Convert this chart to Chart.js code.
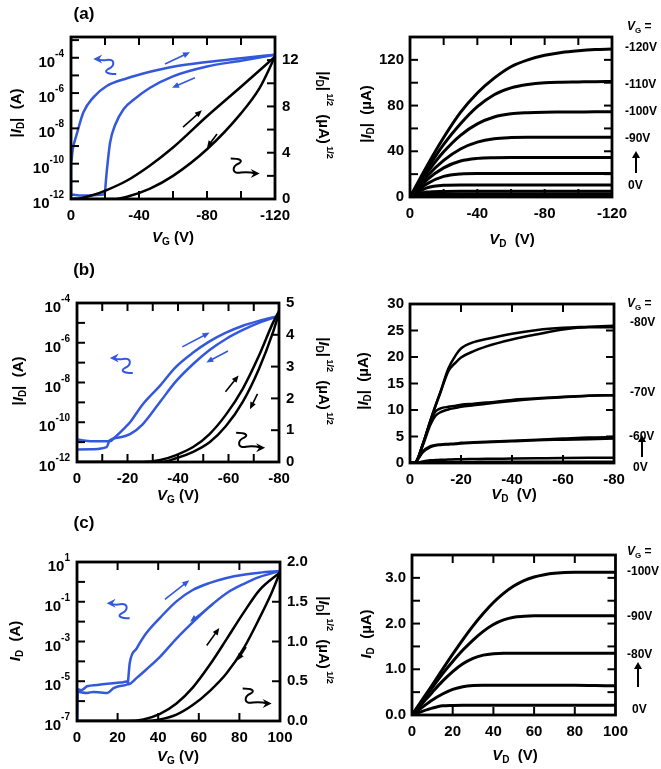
<!DOCTYPE html>
<html>
<head>
<meta charset="utf-8">
<script src="https://cdn.jsdelivr.net/npm/chart.js@4.4.1/dist/chart.umd.min.js"></script>
<style>
  body { margin: 0; width: 661px; height: 769px; background: #fff; position: relative; overflow: hidden;
         font-family: "Liberation Sans", Arial, sans-serif; font-weight: bold; color: #000; }
  canvas { position: absolute; }
  .t { position: absolute; white-space: nowrap; font-size: 15px; line-height: 1; transform: translate(-50%, -50%); }
  .t.rl { transform: translate(-50%, -50%) rotate(-90deg); }
  .t.rr { transform: translate(-50%, -50%) rotate(90deg); }
  .t sub { font-size: 10px; vertical-align: -3px; }
  .t sup { font-size: 9px; vertical-align: 8px; }
  .g { position: absolute; white-space: nowrap; font-size: 12px; line-height: 1; transform: translateY(-50%); }
  .g sub { font-size: 8px; vertical-align: -3px; }
  .pl { position: absolute; font-size: 17px; line-height: 1; transform: translate(-50%, -50%); }
  .arr { position: absolute; width: 1.5px; background: #000; }
  .arr::before { content: ''; position: absolute; left: -3.5px; top: -6px; border-left: 4.25px solid transparent;
                 border-right: 4.25px solid transparent; border-bottom: 7px solid #000; }
</style>
</head>
<body>

<div class="pl" style="left:84px;top:13px">(a)</div>
<div class="pl" style="left:84px;top:269px">(b)</div>
<div class="pl" style="left:84px;top:522px">(c)</div>

<!-- axis titles, panel a -->
<div class="t rl" style="left:17px;top:113px">|<i>I</i><sub>D</sub>|&nbsp; (A)</div>
<div class="t rr" style="left:324px;top:115px">|<i>I</i><sub>D</sub>|<sup>&nbsp;1/2</sup>&nbsp; (µA)<sup>&nbsp;1/2</sup></div>
<div class="t" style="left:173px;top:238px"><i>V</i><sub>G</sub> (V)</div>
<div class="t rl" style="left:367px;top:114px">|<i>I</i><sub>D</sub>|&nbsp; (µA)</div>
<div class="t" style="left:512px;top:240px"><i>V</i><sub>D</sub>&nbsp; (V)</div>

<!-- axis titles, panel b -->
<div class="t rl" style="left:19px;top:381px">|<i>I</i><sub>D</sub>|&nbsp; (A)</div>
<div class="t rr" style="left:324px;top:381px">|<i>I</i><sub>D</sub>|<sup>&nbsp;1/2</sup>&nbsp; (µA)<sup>&nbsp;1/2</sup></div>
<div class="t" style="left:178px;top:496px"><i>V</i><sub>G</sub> (V)</div>
<div class="t rl" style="left:364px;top:381px">|<i>I</i><sub>D</sub>|&nbsp; (µA)</div>
<div class="t" style="left:514px;top:495px"><i>V</i><sub>D</sub>&nbsp; (V)</div>

<!-- axis titles, panel c -->
<div class="t rl" style="left:16px;top:641px"><i>I</i><sub>D</sub>&nbsp; (A)</div>
<div class="t rr" style="left:324px;top:640px">|<i>I</i><sub>D</sub>|<sup>&nbsp;1/2</sup>&nbsp; (µA)<sup>&nbsp;1/2</sup></div>
<div class="t" style="left:178px;top:757px"><i>V</i><sub>G</sub> (V)</div>
<div class="t rl" style="left:367px;top:634px"><i>I</i><sub>D</sub>&nbsp; (µA)</div>
<div class="t" style="left:515px;top:756px"><i>V</i><sub>D</sub>&nbsp; (V)</div>

<!-- gate voltage labels -->
<div class="g" style="left:627px;top:27px"><i>V</i><sub>G</sub> =</div>
<div class="g" style="left:625px;top:47px">-120V</div>
<div class="g" style="left:625px;top:84px">-110V</div>
<div class="g" style="left:625px;top:111px">-100V</div>
<div class="g" style="left:625px;top:138px">-90V</div>
<div class="arr" style="left:635px;top:157px;height:16px"></div>
<div class="g" style="left:628px;top:185px">0V</div>

<div class="g" style="left:627px;top:304px"><i>V</i><sub>G</sub> =</div>
<div class="g" style="left:630px;top:322px">-80V</div>
<div class="g" style="left:630px;top:392px">-70V</div>
<div class="g" style="left:629px;top:436px">-60V</div>
<div class="arr" style="left:641px;top:441px;height:16px"></div>
<div class="g" style="left:633px;top:467px">0V</div>

<div class="g" style="left:627px;top:552px"><i>V</i><sub>G</sub> =</div>
<div class="g" style="left:627px;top:571px">-100V</div>
<div class="g" style="left:627px;top:616px">-90V</div>
<div class="g" style="left:627px;top:654px">-80V</div>
<div class="arr" style="left:637px;top:668px;height:19px"></div>
<div class="g" style="left:632px;top:709px">0V</div>

<script>
const FONT = "'Liberation Sans', Arial, sans-serif";
const BLUE = '#3358dc';

// ---------- panel (a): transfer ----------
const aBlueOuterVg = [0, 0, -1, -3.3, -7.3, -13, -21, -33, -46.5, -60, -80, -100, -120];
const aBlueOuterId = [1.8e-12, 1e-10, 6.3e-10, 4.4e-9, 8.1e-8, 5.5e-7, 2.5e-6, 6.9e-6, 1.6e-5, 3.1e-5, 5.8e-5, 9.5e-5, 1.5e-4];
const aBlueInnerVg = [0, -5, -10, -15, -19, -20, -20.5, -21.5, -23, -26, -31, -37, -46.5, -60, -80, -100, -120];
const aBlueInnerId = [1.8e-12, 1.6e-12, 1.6e-12, 1.7e-12, 1.8e-12, 2.5e-12, 1e-11, 1e-10, 1.6e-9, 1.6e-8, 1.26e-7, 4.3e-7, 2e-6, 8.9e-6, 3.2e-5, 6.8e-5, 1.5e-4];
const aBlackFwdVg = [0, -5, -13, -21, -33, -46.5, -60, -80, -100, -120];
const aBlackFwdSqrt = [0, 0.05, 0.34, 0.77, 1.6, 2.9, 4.45, 7.15, 9.7, 12.3];
const aBlackRevVg = [0, -10, -20, -25, -33, -46.5, -60, -80, -100, -111, -120];
const aBlackRevSqrt = [0, 0, 0, 0, 0.2, 0.9, 2.0, 4.3, 7.4, 9.6, 12.3];
const aLogTicks = [-12, -11, -10, -9, -8, -7, -6, -5, -4, -3];
const aLogLabels = [-12, -10, -8, -6, -4];

// ---------- panel (a): output ----------
const aVd = [0, -10, -20, -30, -40, -50, -60, -70, -80, -90, -100, -110, -120];
const aOut120 = [0, 27, 52, 74, 91, 104, 114, 120, 124, 126.5, 128, 129, 129.5];
const aOut110 = [0, 24, 46, 64, 79, 89.5, 95.5, 98.5, 100, 100.5, 100.7, 100.9, 101];
const aOut100 = [0, 21, 39.5, 54, 64, 70, 72.8, 73.8, 74.2, 74.3, 74.4, 74.5, 74.5];
const aOut90 = [0, 18, 32, 42, 48, 51, 52, 52.3, 52.3, 52.3, 52.3, 52.3, 52.3];
const aOut80 = [0, 15, 25.5, 31.5, 33.8, 34.4, 34.5, 34.5, 34.5, 34.5, 34.5, 34.5, 34.5];
const aOut70 = [0, 11.5, 18, 20.2, 20.6, 20.6, 20.6, 20.6, 20.6, 20.6, 20.6, 20.6, 20.6];
const aOut60 = [0, 8, 10.3, 10.6, 10.6, 10.6, 10.6, 10.6, 10.6, 10.6, 10.6, 10.6, 10.6];
const aOut50 = [0, 4.3, 4.9, 5, 5, 5, 5, 5, 5, 5, 5, 5, 5];
const aOut40 = [0, 2.2, 2.5, 2.6, 2.6, 2.6, 2.6, 2.6, 2.6, 2.6, 2.6, 2.6, 2.6];
const aOut30 = [0, 0.8, 0.9, 0.9, 0.9, 0.9, 0.9, 0.9, 0.9, 0.9, 0.9, 0.9, 0.9];
const aOut0 = [0, 0.2, 0.3, 0.3, 0.3, 0.3, 0.3, 0.3, 0.3, 0.3, 0.3, 0.3, 0.3];

// ---------- panel (b): transfer ----------
const bBlueFwdVg = [0, -6, -13, -15, -19, -21, -26, -33, -39, -46, -52.5, -59, -65.7, -72, -80];
const bBlueFwdId = [1.35e-11, 1.1e-11, 1.1e-11, 1.75e-11, 5.4e-11, 1e-10, 7.9e-10, 7.2e-9, 5.8e-8, 3.2e-7, 1.17e-6, 3.2e-6, 7.2e-6, 1.26e-5, 2.24e-5];
const bBlueRevVg = [0, -6, -11.7, -13, -17, -21, -26, -33, -39, -46, -52.5, -59, -65.7, -72, -80];
const bBlueRevId = [4.2e-12, 4.4e-12, 5.6e-12, 1.26e-11, 1.75e-11, 2.5e-11, 7.9e-11, 1.1e-9, 1.07e-8, 8.5e-8, 4.3e-7, 1.55e-6, 4.4e-6, 1e-5, 2.24e-5];
const bBlackFwdVg = [0, -20, -26, -33, -39, -46, -52.5, -59, -65.7, -72, -77.5, -80];
const bBlackFwdSqrt = [0, 0, 0, 0.06, 0.21, 0.47, 0.88, 1.49, 2.31, 3.33, 4.36, 4.75];
const bBlackRevVg = [0, -26, -33, -39, -46, -52.5, -59, -65.7, -72, -77.5, -80];
const bBlackRevSqrt = [0, 0, 0, 0.11, 0.32, 0.62, 1.13, 1.9, 2.92, 4.05, 4.7];
const bLogTicks = [-12, -11, -10, -9, -8, -7, -6, -5, -4];
const bLogLabels = [-12, -10, -8, -6, -4];

// ---------- panel (b): output ----------
const bVd = [0, -2, -5, -8, -10, -12, -15, -18, -20, -25, -30, -40, -50, -60, -70, -80];
const bOut80a = [0, 0.1, 3.5, 8, 10.8, 13.5, 17.8, 20.4, 21.6, 22.8, 23.4, 24.4, 25.1, 25.5, 25.7, 25.9];
const bOut80b = [0, 0.1, 3.5, 8, 10.8, 13.4, 17.3, 19, 19.9, 21.1, 22, 23.3, 24.3, 25.2, 25.6, 25.6];
const bOut70a = [0, 0.1, 3.5, 7.8, 9.7, 10.3, 10.6, 10.8, 11, 11.2, 11.4, 11.9, 12.2, 12.5, 12.7, 12.8];
const bOut70b = [0, 0.1, 3.3, 7.2, 8.9, 9.6, 10.1, 10.4, 10.6, 10.9, 11.2, 11.7, 12.1, 12.4, 12.7, 12.8];
const bOut60a = [0, 0.1, 2.2, 3.2, 3.4, 3.5, 3.6, 3.7, 3.8, 3.9, 4, 4.2, 4.4, 4.6, 4.8, 4.9];
const bOut60b = [0, 0.1, 2, 3, 3.3, 3.4, 3.5, 3.6, 3.7, 3.8, 3.9, 4.1, 4.3, 4.4, 4.5, 4.6];
const bOut50 = [0, 0, 0.3, 0.5, 0.55, 0.6, 0.65, 0.7, 0.72, 0.75, 0.78, 0.83, 0.88, 0.93, 0.97, 1];
const bOut0 = [0, 0, 0.1, 0.15, 0.18, 0.2, 0.2, 0.2, 0.21, 0.21, 0.22, 0.22, 0.23, 0.24, 0.25, 0.25];

// ---------- panel (c): transfer ----------
const cBlueFwdVg = [0, 0.3, 2, 5, 8, 12, 15, 18, 22, 25, 25.3, 26, 29.4, 34, 41, 49, 57, 65.5, 73.7, 82, 90, 100];
const cBlueFwdId = [1e-7, 3e-6, 2.8e-6, 2.6e-6, 2.9e-6, 2.7e-6, 2.6e-6, 4.5e-6, 6e-6, 7e-6, 1.5e-5, 8.5e-5, 4.5e-4, 2.5e-3, 1.6e-2, 0.105, 0.39, 0.89, 1.58, 2.3, 2.9, 3.5];
const cBlueRevVg = [0, 0.3, 2, 5, 10, 15, 20, 22.8, 25, 25.3, 29.4, 34, 41, 49, 57, 65.5, 73.7, 82, 90, 100];
const cBlueRevId = [1e-7, 4e-6, 3.5e-6, 5.6e-6, 6.5e-6, 7.5e-6, 8.5e-6, 9e-6, 1e-5, 7.1e-6, 1.48e-5, 3.8e-5, 1.74e-4, 1.4e-3, 9.1e-3, 5.9e-2, 0.27, 0.78, 1.78, 3.5];
const cBlackFwdVg = [0, 24.5, 32.7, 40.9, 49, 57, 65.5, 73.7, 82, 90, 100];
const cBlackFwdSqrt = [0, 0, 0.02, 0.09, 0.22, 0.42, 0.71, 1.03, 1.36, 1.65, 1.87];
const cBlackRevVg = [0, 32.7, 40.9, 49, 57, 65.5, 73.7, 82, 90, 96, 100];
const cBlackRevSqrt = [0, 0, 0.02, 0.08, 0.2, 0.38, 0.6, 0.91, 1.3, 1.62, 1.87];
const cLogTicks = [-7, -6, -5, -4, -3, -2, -1, 0, 1];
const cLogLabels = [-7, -5, -3, -1, 1];

// ---------- panel (c): output ----------
const cVd = [0, 5, 10, 15, 20, 25, 30, 35, 40, 45, 50, 55, 60, 65, 70, 80, 90, 100];
const cOut100 = [0, 0.33, 0.66, 1.0, 1.33, 1.65, 1.95, 2.22, 2.46, 2.66, 2.82, 2.94, 3.02, 3.07, 3.1, 3.12, 3.12, 3.12];
const cOut90 = [0, 0.3, 0.6, 0.9, 1.17, 1.42, 1.64, 1.83, 1.98, 2.08, 2.14, 2.16, 2.17, 2.17, 2.17, 2.17, 2.17, 2.17];
const cOut80 = [0, 0.25, 0.5, 0.74, 0.95, 1.12, 1.24, 1.31, 1.34, 1.35, 1.35, 1.35, 1.35, 1.35, 1.35, 1.35, 1.35, 1.35];
const cOut70 = [0, 0.17, 0.33, 0.46, 0.56, 0.62, 0.645, 0.65, 0.65, 0.65, 0.65, 0.65, 0.65, 0.65, 0.65, 0.65, 0.645, 0.64];
const cOut0 = [0, 0.08, 0.15, 0.2, 0.21, 0.215, 0.215, 0.215, 0.215, 0.215, 0.215, 0.215, 0.215, 0.215, 0.215, 0.215, 0.215, 0.215];

function pts(xs, ys) {
    return xs.map((x, i) => ({ x: x, y: ys[i] }));
}

function curve(xs, ys, color, width, axis) {
    return {
        data: pts(xs, ys),
        borderColor: color,
        borderWidth: width,
        pointRadius: 0,
        fill: false,
        cubicInterpolationMode: 'monotone',
        yAxisID: axis
    };
}

function drawLine(ctx, x1, y1, x2, y2) {
    ctx.beginPath();
    ctx.moveTo(x1, y1);
    ctx.lineTo(x2, y2);
    ctx.stroke();
}

function drawArrow(ctx, x1, y1, x2, y2, color, w) {
    const ang = Math.atan2(y2 - y1, x2 - x1), hl = 7, hw = 3;
    const c = Math.cos(ang), s = Math.sin(ang);
    ctx.strokeStyle = color;
    ctx.fillStyle = color;
    ctx.lineWidth = w;
    drawLine(ctx, x1, y1, x2 - hl * 0.6 * c, y2 - hl * 0.6 * s);
    ctx.beginPath();
    ctx.moveTo(x2, y2);
    ctx.lineTo(x2 - hl * c + hw * s, y2 - hl * s - hw * c);
    ctx.lineTo(x2 - hl * c - hw * s, y2 - hl * s + hw * c);
    ctx.closePath();
    ctx.fill();
}

// curly arrow: head at (hx, hy), pointing left; black ones are turned round
function drawCurl(ctx, hx, hy, color, flip, shaft) {
    ctx.save();
    ctx.translate(hx, hy);
    if (flip) ctx.rotate(Math.PI);
    ctx.strokeStyle = color;
    ctx.fillStyle = color;
    ctx.lineWidth = 2;
    ctx.beginPath();
    ctx.moveTo(4, 0);
    ctx.quadraticCurveTo(shaft * 0.6, 2, shaft, 1);
    ctx.bezierCurveTo(shaft + 9, -1, shaft + 9, 7, shaft + 2, 10);
    ctx.bezierCurveTo(shaft - 3, 13, shaft + 1, 15, shaft + 10, 15);
    ctx.stroke();
    ctx.beginPath();
    ctx.moveTo(0, 0);
    ctx.lineTo(9, -4.5);
    ctx.lineTo(6, 0);
    ctx.lineTo(9, 4.5);
    ctx.closePath();
    ctx.fill();
    ctx.restore();
}

const TL = 8;   // inner tick length

const framePlugin = {
    id: 'frame',
    afterDraw(chart, args, opts) {
        const { ctx, chartArea: a, scales } = chart;
        ctx.save();
        ctx.strokeStyle = '#000';
        ctx.lineWidth = 2;
        const xs = scales.x;
        xs.ticks.forEach(t => {
            const px = xs.getPixelForValue(t.value);
            if (px < a.left + 2 || px > a.right - 2) return;
            drawLine(ctx, px, a.bottom, px, a.bottom - TL);
            drawLine(ctx, px, a.top, px, a.top + TL);
        });
        const yl = scales.yl;
        const yr = scales.yr;
        yl.ticks.forEach(t => {
            const py = yl.getPixelForValue(t.value);
            if (py < a.top + 2 || py > a.bottom - 2) return;
            drawLine(ctx, a.left, py, a.left + TL, py);
            if (!yr) drawLine(ctx, a.right, py, a.right - TL, py);
        });
        if (yr) {
            yr.ticks.forEach(t => {
                const py = yr.getPixelForValue(t.value);
                if (py < a.top + 2 || py > a.bottom - 2) return;
                drawLine(ctx, a.right, py, a.right - TL, py);
            });
        }
        ctx.lineWidth = 2.8;
        ctx.strokeRect(a.left, a.top, a.right - a.left, a.bottom - a.top);

        // log labels: 10 with a raised exponent
        if (opts.logLabels) {
            ctx.fillStyle = '#000';
            ctx.textAlign = 'right';
            ctx.textBaseline = 'alphabetic';
            opts.logLabels.forEach(e => {
                const py = yl.getPixelForValue(Math.pow(10, e));
                ctx.font = 'bold 10px ' + FONT;
                const ex = String(e);
                const ew = ctx.measureText(ex).width;
                ctx.fillText(ex, a.left - 7, py - 1);
                ctx.font = 'bold 15px ' + FONT;
                ctx.fillText('10', a.left - 7 - ew, py + 9);
            });
        }

        // annotation arrows, placed in data units (x, right axis)
        if (yr) {
            (opts.arrows || []).forEach(r => {
                drawArrow(ctx, xs.getPixelForValue(r[0]), yr.getPixelForValue(r[1]),
                          xs.getPixelForValue(r[2]), yr.getPixelForValue(r[3]), r[4], 1.6);
            });
            (opts.curls || []).forEach(r => {
                drawCurl(ctx, xs.getPixelForValue(r[0]), yr.getPixelForValue(r[1]), r[2], r[3], r[4]);
            });
        }
        ctx.restore();
    }
};

function tickFont() {
    return { family: FONT, size: 15, weight: 'bold' };
}

function makePanel(p) {
    const T = 12, B = 30;
    const L = p.leftW, R = p.rightW;
    const w = p.area[1] - p.area[0] + L + R;
    const h = p.area[3] - p.area[2] + T + B;
    const cv = document.createElement('canvas');
    cv.width = w;
    cv.height = h;
    cv.style.left = (p.area[0] - L) + 'px';
    cv.style.top = (p.area[2] - T) + 'px';
    cv.style.width = w + 'px';
    cv.style.height = h + 'px';
    document.body.insertBefore(cv, document.body.firstChild);

    const scales = {
        x: {
            type: 'linear', position: 'bottom',
            min: p.x.min, max: p.x.max, reverse: !!p.x.reverse,
            grid: { display: false, drawTicks: false },
            border: { display: false },
            ticks: {
                stepSize: p.x.step, autoSkip: false, maxRotation: 0, padding: 8,
                font: tickFont(), color: '#000', callback: p.x.label
            },
            afterFit: s => { s.height = B; }
        }
    };
    if (p.log) {
        scales.yl = {
            type: 'logarithmic', position: 'left',
            min: p.log.min, max: p.log.max,
            grid: { display: false, drawTicks: false },
            border: { display: false },
            ticks: { display: false },
            afterBuildTicks: s => { s.ticks = p.log.ticks.map(e => ({ value: Math.pow(10, e) })); },
            afterFit: s => { s.width = L; }
        };
        scales.yr = {
            type: 'linear', position: 'right',
            min: p.y.min, max: p.y.max,
            grid: { display: false, drawTicks: false },
            border: { display: false },
            ticks: {
                stepSize: p.y.step, autoSkip: false, padding: 7,
                font: tickFont(), color: '#000', callback: p.y.label
            },
            afterFit: s => { s.width = R; }
        };
    } else {
        scales.yl = {
            type: 'linear', position: 'left',
            min: p.y.min, max: p.y.max,
            grid: { display: false, drawTicks: false },
            border: { display: false },
            ticks: {
                stepSize: p.y.step, autoSkip: false, padding: 6,
                font: tickFont(), color: '#000', callback: p.y.label
            },
            afterFit: s => { s.width = L; }
        };
    }

    return new Chart(cv, {
        type: 'line',
        data: { datasets: p.datasets },
        options: {
            responsive: false,
            animation: false,
            layout: { padding: { top: T, right: p.log ? 0 : R } },
            plugins: {
                legend: { display: false },
                tooltip: { enabled: false },
                frame: {
                    logLabels: p.log ? p.log.labels : null,
                    arrows: p.arrows,
                    curls: p.curls
                }
            },
            scales: scales
        },
        plugins: [framePlugin]
    });
}

const each = n => v => (Math.abs(v % n) < 1e-9 ? String(v) : '');

// (a) transfer
makePanel({
    area: [71, 275, 33, 199], leftW: 70, rightW: 40,
    x: { min: -120, max: 0, reverse: true, step: 20, label: each(40) },
    log: { min: 1e-12, max: 1.5e-3, ticks: aLogTicks, labels: aLogLabels },
    y: { min: 0, max: 14, step: 2, label: each(4) },
    datasets: [
        curve(aBlackFwdVg, aBlackFwdSqrt, '#000', 2.5, 'yr'),
        curve(aBlackRevVg, aBlackRevSqrt, '#000', 2.5, 'yr'),
        curve(aBlueOuterVg, aBlueOuterId, BLUE, 2.5, 'yl'),
        curve(aBlueInnerVg, aBlueInnerId, BLUE, 2.5, 'yl')
    ],
    arrows: [
        [-55.3, 11.66, -70, 12.68, BLUE],
        [-72.9, 10.47, -59.4, 9.62, BLUE],
        [-65.9, 6.21, -77, 7.66, '#000'],
        [-85.9, 5.62, -80, 4.43, '#000']
    ],
    curls: [[-13.1, 12.1, BLUE, false, 13], [-111, 2.2, '#000', true, 19]]
});

// (a) output
makePanel({
    area: [410, 615, 34, 197], leftW: 60, rightW: 20,
    x: { min: -120, max: 0, reverse: true, step: 20, label: each(40) },
    y: { min: 0, max: 140, step: 20, label: each(40) },
    datasets: [aOut120, aOut110, aOut100, aOut90, aOut80, aOut70, aOut60, aOut50, aOut40, aOut30, aOut0]
        .map(ys => curve(aVd, ys, '#000', 3, 'yl'))
});

// (b) transfer
makePanel({
    area: [77, 279, 299, 462], leftW: 70, rightW: 40,
    x: { min: -80, max: 0, reverse: true, step: 10, label: each(20) },
    log: { min: 1e-12, max: 1e-4, ticks: bLogTicks, labels: bLogLabels },
    y: { min: 0, max: 5, step: 1, label: each(1) },
    datasets: [
        curve(bBlackFwdVg, bBlackFwdSqrt, '#000', 2.5, 'yr'),
        curve(bBlackRevVg, bBlackRevSqrt, '#000', 2.5, 'yr'),
        curve(bBlueFwdVg, bBlueFwdId, BLUE, 2.5, 'yl'),
        curve(bBlueRevVg, bBlueRevId, BLUE, 2.5, 'yl')
    ],
    arrows: [
        [-41.7, 3.62, -52.5, 4.07, BLUE],
        [-59.8, 3.49, -51.2, 3.13, BLUE],
        [-58.8, 2.21, -64, 2.72, '#000'],
        [-71.5, 2.14, -68.5, 1.66, '#000']
    ],
    curls: [[-13, 3.27, BLUE, false, 13], [-74.5, 0.45, '#000', true, 19]]
});

// (b) output
makePanel({
    area: [410, 614, 301, 463], leftW: 60, rightW: 20,
    x: { min: -80, max: 0, reverse: true, step: 20, label: each(20) },
    y: { min: 0, max: 30, step: 5, label: each(5) },
    datasets: [bOut80a, bOut80b, bOut70a, bOut70b, bOut60a, bOut60b, bOut50, bOut0]
        .map(ys => curve(bVd, ys, '#000', 2.5, 'yl'))
});

// (c) transfer
makePanel({
    area: [77, 280, 558, 721], leftW: 70, rightW: 40,
    x: { min: 0, max: 100, step: 20, label: each(20) },
    log: { min: 1e-7, max: 10, ticks: cLogTicks, labels: cLogLabels },
    y: { min: 0, max: 2, step: 0.5, label: v => v.toFixed(1) },
    datasets: [
        curve(cBlackFwdVg, cBlackFwdSqrt, '#000', 2.5, 'yr'),
        curve(cBlackRevVg, cBlackRevSqrt, '#000', 2.5, 'yr'),
        curve(cBlueFwdVg, cBlueFwdId, BLUE, 2.5, 'yl'),
        curve(cBlueRevVg, cBlueRevId, BLUE, 2.5, 'yl')
    ],
    arrows: [
        [43.3, 1.53, 55.3, 1.77, BLUE],
        [66.8, 1.46, 55.7, 1.25, BLUE],
        [63.9, 0.95, 70.1, 1.17, '#000'],
        [83.3, 0.93, 79, 0.76, '#000']
    ],
    curls: [[14.6, 1.48, BLUE, false, 13], [95.9, 0.22, '#000', true, 19]]
});

// (c) output
makePanel({
    area: [412, 616, 552, 715], leftW: 60, rightW: 20,
    x: { min: 0, max: 100, step: 20, label: each(20) },
    y: { min: 0, max: 3.5, step: 0.5, label: v => (Math.abs(v % 1) < 1e-9 ? v.toFixed(1) : '') },
    datasets: [cOut100, cOut90, cOut80, cOut70, cOut0]
        .map(ys => curve(cVd, ys, '#000', 3, 'yl'))
});
</script>
</body>
</html>
